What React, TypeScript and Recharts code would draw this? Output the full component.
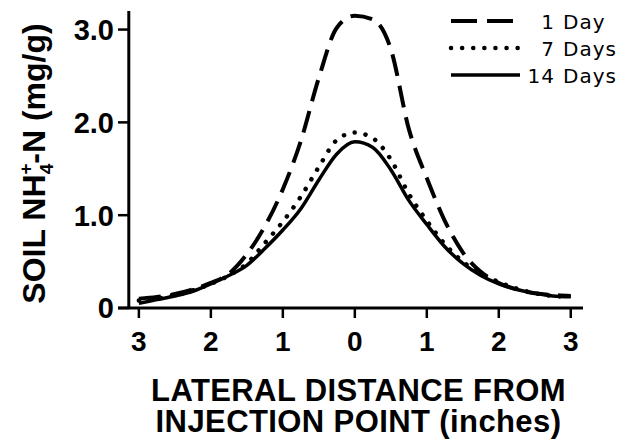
import React from "react";
import { LineChart, Line, XAxis, YAxis, Legend, ReferenceLine } from "recharts";

// lateral distance from the injection point (negative = left side)
const DISTANCE = [
  -3, -2.75, -2.5, -2.25, -2, -1.75, -1.5, -1.25, -1, -0.75, -0.5, -0.25, 0,
  0.25, 0.5, 0.75, 1, 1.25, 1.5, 1.75, 2, 2.25, 2.5, 2.75, 3,
];

const DAY_1 = [
  0.1, 0.12, 0.15, 0.2, 0.27, 0.37, 0.58, 0.88, 1.28, 1.8, 2.48, 3.02, 3.15,
  3.11, 2.79, 1.93, 1.4, 0.94, 0.6, 0.39, 0.27, 0.2, 0.16, 0.14, 0.13,
];

const DAY_7 = [
  0.08, 0.1, 0.14, 0.19, 0.26, 0.35, 0.48, 0.7, 0.93, 1.2, 1.52, 1.81, 1.89,
  1.83, 1.6, 1.23, 0.94, 0.69, 0.5, 0.37, 0.28, 0.21, 0.16, 0.13, 0.12,
];

const DAY_14 = [
  0.05, 0.09, 0.13, 0.18, 0.26, 0.35, 0.46, 0.64, 0.84, 1.07, 1.38, 1.66, 1.79,
  1.73, 1.49, 1.16, 0.9, 0.66, 0.48, 0.35, 0.26, 0.2, 0.16, 0.13, 0.12,
];

const X_TICKS = [-3, -2, -1, 0, 1, 2, 3];
const Y_TICKS = [0, 1, 2, 3];

const SERIES_KEYS = ["day1", "day7", "day14"];
const SERIES_COUNTS = ["1", "7", "14"];
const SERIES_UNITS = ["Day", "Days", "Days"];

const data = DISTANCE.map((x, i) => ({
  x,
  day1: DAY_1[i],
  day7: DAY_7[i],
  day14: DAY_14[i],
}));

const FONT = "'Liberation Sans', Arial, Helvetica, sans-serif";
const LEGEND_FONT = "'DejaVu Sans', 'Liberation Sans', Arial, sans-serif";
const INK = "#000";

const LINE_STYLE: Record<string, { width: number; dash?: string }> = {
  day1: { width: 4, dash: "22 10" },
  day7: { width: 4.5, dash: "0.1 11" },
  day14: { width: 3.5 },
};

function YTick({ x, y, payload }: any) {
  const v = payload.value as number;
  const label = v === 0 ? "0" : v.toFixed(1);
  return (
    <g>
      <line x1={x} x2={x + 11} y1={y} y2={y} stroke={INK} strokeWidth={2.5} />
      <text
        x={x - 4}
        y={y}
        dy="0.36em"
        textAnchor="end"
        fill={INK}
        fontSize={29}
        fontWeight={700}
        fontFamily={FONT}
      >
        {label}
      </text>
    </g>
  );
}

function YTitle({ viewBox }: any) {
  const cx = viewBox.x + 45;
  const cy = viewBox.y + viewBox.height / 2 + 4;
  return (
    <text
      x={cx}
      y={cy}
      transform={`rotate(-90 ${cx} ${cy})`}
      textAnchor="middle"
      fill={INK}
      fontSize={32}
      fontWeight={700}
      fontFamily={FONT}
    >
      SOIL NH
      <tspan dy={-13} fontSize={19}>
        +
      </tspan>
      <tspan dx={-11} dy={21} fontSize={19}>
        4
      </tspan>
      <tspan dy={-8}>-N (mg/g)</tspan>
    </text>
  );
}

function XTitle({ viewBox }: any) {
  const cx = viewBox.x + viewBox.width / 2 + 8;
  return (
    <g fill={INK} fontSize={31} fontWeight={700} fontFamily={FONT}>
      <text x={cx} y={viewBox.y + 93} textAnchor="middle" letterSpacing={0.4}>
        LATERAL DISTANCE FROM
      </text>
      <text x={cx} y={viewBox.y + 124} textAnchor="middle" letterSpacing={0.4}>
        INJECTION POINT (inches)
      </text>
    </g>
  );
}

function LegendBox({ payload }: any) {
  const items = SERIES_KEYS.map((key) =>
    (payload || []).find((p: any) => p.dataKey === key)
  ).filter(Boolean);
  return (
    <svg width={188} height={90}>
      {items.map((entry: any) => {
        const i = SERIES_KEYS.indexOf(entry.dataKey);
        const st = LINE_STYLE[entry.dataKey];
        const y = 21 + i * 27;
        return (
          <g key={entry.dataKey}>
            <line
              x1={11}
              x2={80}
              y1={y}
              y2={y}
              stroke={INK}
              strokeWidth={st.width}
              strokeDasharray={entry.dataKey === "day1" ? "26 10" : st.dash}
              strokeLinecap={entry.dataKey === "day7" ? "round" : "butt"}
            />
            <g fill={INK} fontSize={20} fontFamily={LEGEND_FONT} letterSpacing={1}>
              <text x={115} y={y + 8} textAnchor="end">
                {SERIES_COUNTS[i]}
              </text>
              <text x={123} y={y + 8}>
                {SERIES_UNITS[i]}
              </text>
            </g>
          </g>
        );
      })}
    </svg>
  );
}

export default function App() {
  return (
    <div style={{ width: 628, height: 443, background: "#fff" }}>
      <style>{"body{margin:0}"}</style>
      <LineChart
        width={628}
        height={443}
        data={data}
        margin={{ top: 11, right: 45, bottom: 0, left: 0 }}
      >
        <XAxis
          dataKey="x"
          type="number"
          domain={[-3.29, 3.17]}
          allowDataOverflow
          ticks={X_TICKS}
          tickFormatter={(v: number) => String(Math.abs(v))}
          height={135}
          tickSize={10}
          tickMargin={13}
          axisLine={{ stroke: INK, strokeWidth: 3 }}
          tickLine={{ stroke: INK, strokeWidth: 2.5 }}
          tick={{ fill: INK, fontSize: 28, fontWeight: 700, fontFamily: FONT }}
          label={(props: any) => <XTitle {...props} />}
        />
        <YAxis
          type="number"
          domain={[0, 3.2]}
          allowDataOverflow
          ticks={Y_TICKS}
          width={118}
          tickSize={0}
          tickMargin={0}
          axisLine={false}
          tickLine={false}
          tick={YTick}
          label={(props: any) => <YTitle {...props} />}
        />
        <ReferenceLine x={-3.14} stroke={INK} strokeWidth={3} />
        <Legend
          layout="horizontal"
          align="center"
          verticalAlign="middle"
          wrapperStyle={{ top: 0, left: 440, width: 188, height: 90 }}
          content={(props: any) => <LegendBox {...props} />}
        />
        <Line
          dataKey="day1"
          name="1 Day"
          type="monotone"
          stroke={INK}
          strokeWidth={LINE_STYLE.day1.width}
          strokeDasharray={LINE_STYLE.day1.dash}
          dot={false}
          activeDot={false}
          isAnimationActive={false}
        />
        <Line
          dataKey="day7"
          name="7 Days"
          type="monotone"
          stroke={INK}
          strokeWidth={LINE_STYLE.day7.width}
          strokeDasharray={LINE_STYLE.day7.dash}
          strokeLinecap="round"
          dot={false}
          activeDot={false}
          isAnimationActive={false}
        />
        <Line
          dataKey="day14"
          name="14 Days"
          type="monotone"
          stroke={INK}
          strokeWidth={LINE_STYLE.day14.width}
          dot={false}
          activeDot={false}
          isAnimationActive={false}
        />
      </LineChart>
    </div>
  );
}
